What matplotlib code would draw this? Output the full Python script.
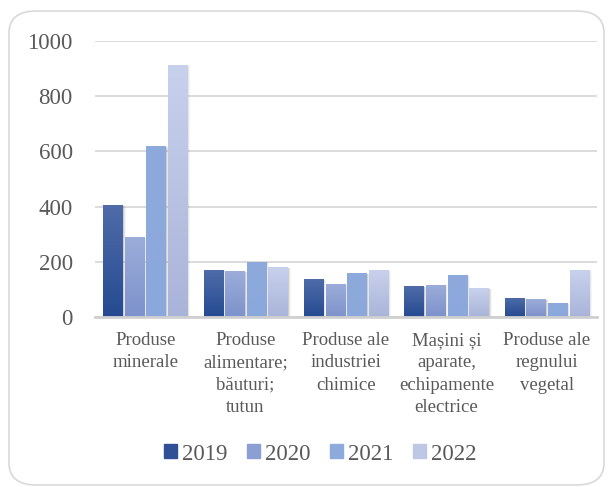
import numpy as np
import matplotlib
matplotlib.use('Agg')
import matplotlib.pyplot as plt
from matplotlib.patches import FancyBboxPatch, Rectangle
from matplotlib.colors import LinearSegmentedColormap

## Data
categories = ['Produse\nminerale', 'Produse\nalimentare;\nbăuturi;\ntutun',
              'Produse ale\nindustriei\nchimice', 'Mașini și\naparate,\nechipamente\nelectrice',
              'Produse ale\nregnului\nvegetal']
years = ['2019', '2020', '2021', '2022']
v2019 = [405, 170, 137, 112, 69]
v2020 = [289, 166, 119, 116, 65]
v2021 = [618, 201, 158, 152, 51]
v2022 = [914, 181, 170, 105, 170]
series = [v2019, v2020, v2021, v2022]

# gradient colours (top, bottom) per year
colors = [('#4f6ca9', '#254a91'), ('#9cadda', '#7d92cb'),
          ('#8eaadc', '#8ba8dc'), ('#c8d1ec', '#a9b4d9')]
legend_colors = ['#2f5096', '#8c9fd4', '#8eaadc', '#bdc7e6']

plt.rcParams['font.family'] = ['Liberation Serif', 'DejaVu Serif']

fig = plt.figure(figsize=(6.13, 4.87), dpi=100)

# rounded frame around chart
frame = FancyBboxPatch((9/613, 2/487), 595/613, 474/487,
                       boxstyle='round,pad=0,rounding_size=0.045',
                       transform=fig.transFigure, facecolor='none',
                       edgecolor='#d9d9d9', linewidth=1.2, zorder=-10)
fig.patches.append(frame)

ax = fig.add_axes([95/613, 170/487, 502/613, 276/487])
ax.set_facecolor('none')
ax.set_xlim(-0.5, 4.5)
ax.set_ylim(0, 1000)
ax.set_yticks(range(0, 1001, 200))
ax.yaxis.grid(True, color='#d9d9d9', linewidth=1.3, zorder=0)
ax.set_axisbelow(True)
for s in ['top', 'right', 'left']:
    ax.spines[s].set_visible(False)
ax.spines['bottom'].set_color('#d0d0d0')
ax.spines['bottom'].set_linewidth(2)
ax.tick_params(axis='y', length=0, pad=16, labelsize=16.5, labelcolor='#595959')
ax.tick_params(axis='x', length=0, pad=11, labelsize=13.5, labelcolor='#595959')

x = np.arange(len(categories))
step = 0.215
width = 0.19
for i, vals in enumerate(series):
    pos = x + (i - 1.5) * step
    # soft shadow
    for k, a in [(0.012, 0.18), (0.022, 0.10), (0.032, 0.05)]:
        ax.bar(pos + k, vals, width, bottom=-3, color='#606060', alpha=a,
               linewidth=0, zorder=1.5)
    bars = ax.bar(pos, vals, width, color=colors[i][1], linewidth=0, zorder=2,
                  label=years[i])
    cmap = LinearSegmentedColormap.from_list('g%d' % i, [colors[i][1], colors[i][0]])
    grad = np.linspace(0, 1, 256).reshape(-1, 1)
    for b in bars:
        x0, w, h = b.get_x(), b.get_width(), b.get_height()
        im = ax.imshow(grad, cmap=cmap, aspect='auto', origin='lower',
                       extent=[x0, x0 + w, 0, h], zorder=2.1)
        im.set_clip_path(b)
ax.set_xlim(-0.5, 4.5)
ax.set_ylim(0, 1000)
ax.set_xticks(x)
ax.set_xticklabels(categories, linespacing=1.4)

handles = [Rectangle((0, 0), 1, 1, color=c) for c in legend_colors]
fig.legend(handles, years, loc='center', bbox_to_anchor=(320/613, 1 - 454/487),
           ncol=4, frameon=False, fontsize=16.5, labelcolor='#595959',
           handlelength=0.57, handleheight=0.57, handletextpad=0.22,
           columnspacing=0.85)

fig.savefig('out.png', dpi=100)
